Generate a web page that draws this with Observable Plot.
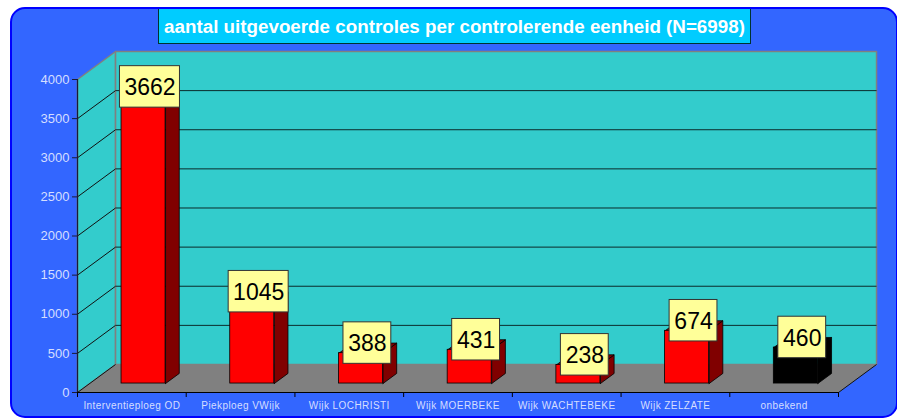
<!DOCTYPE html>
<html><head><meta charset="utf-8">
<script src="https://cdn.jsdelivr.net/npm/d3@7"></script>
<script src="https://cdn.jsdelivr.net/npm/@observablehq/plot@0.6"></script>
<style>
html,body{margin:0;padding:0;background:#fff;overflow:hidden;width:897px;height:418px}
#panel{position:absolute;left:10px;top:6.5px;width:888px;height:411px;box-sizing:border-box;background:#3366ff;border:2.5px solid #0000ff;border-radius:15px}
#chart{position:absolute;left:0;top:0;width:897px;height:418px}
#chart figure{margin:0;padding:0}
#chart h2{position:absolute;z-index:2;left:158px;top:9px;width:593px;height:35px;box-sizing:border-box;margin:0;padding:0;background:#00ccff;border-left:1px solid #003333;border-bottom:1px solid #003333;border-right:1px solid #003333;color:#fff;font:bold 18.8px/35px "Liberation Sans",Arial,sans-serif;text-align:center;white-space:nowrap}
#chart svg{position:absolute;left:0;top:0;background:transparent!important}
#chart svg g[aria-label="x-axis tick label"] text{letter-spacing:.42px}
</style></head><body>
<div id="panel"></div><div id="chart"></div>
<script>
const titleText = "aantal uitgevoerde controles per controlerende eenheid (N=6998)";
const categories = ["Interventieploeg OD","Piekploeg VWijk","Wijk LOCHRISTI","Wijk MOERBEKE","Wijk WACHTEBEKE","Wijk ZELZATE","onbekend"];
const values = [3662,1045,388,431,238,674,460];
const frontColors = ["#ff0000","#ff0000","#ff0000","#ff0000","#ff0000","#ff0000","#000000"];
const sideColors = ["#800000","#800000","#800000","#800000","#800000","#800000","#000000"];
const yTicks = [0,500,1000,1500,2000,2500,3000,3500,4000];

// pseudo-3D depth, in data units
const depthX = 0.35, depthY = 358, yMax = 4000, n = categories.length;
const barLeft = 0.293, barWidth = 0.405, barFront = 0.32, barBack = 0.68;
const boxH = 265;
const fx = (x, d) => x + d * depthX, fy = (y, d) => y + d * depthY;

const poly = (id, color, pts) => pts.map(([x, y]) => ({id, color, x, y}));
const walls = [
  ...poly("left", "#33cccc", [[0,0],[depthX,depthY],[depthX,yMax+depthY],[0,yMax],[0,0]]),
  ...poly("back", "#33cccc", [[depthX,depthY],[n+depthX,depthY],[n+depthX,yMax+depthY],[depthX,yMax+depthY],[depthX,depthY]])
];
const floor = poly("floor", "#808080", [[0,0],[n,0],[n+depthX,depthY],[depthX,depthY],[0,0]]);
const grid = yTicks.filter(t => t > 0 && t < yMax);

const bars = values.map((v, i) => ({v, i, x0: i + barLeft, x1: i + barLeft + barWidth, front: frontColors[i], side: sideColors[i]}));
const faces = bars.flatMap(b => {
  const a = fx(b.x0, barFront), c = fx(b.x1, barFront), e = fx(b.x1, barBack), g = fx(b.x0, barBack);
  const y0 = fy(0, barFront), y1 = fy(b.v, barFront), y2 = fy(0, barBack), y3 = fy(b.v, barBack);
  return [
    ...poly("side"+b.i, b.side, [[c,y0],[e,y2],[e,y3],[c,y1],[c,y0]]),
    ...poly("top"+b.i, b.side, [[a,y1],[c,y1],[e,y3],[g,y3],[a,y1]])
  ];
});
const labels = bars.map(b => {
  const cx = (fx(b.x0, barFront) + fx(b.x1, barBack)) / 2 - 0.004;
  const hw = b.v >= 1000 ? 0.276 : 0.22;
  return {label: String(b.v), cx, cy: fy(b.v, barBack), x1: cx - hw, x2: cx + hw, y1: fy(b.v, barBack) - boxH, y2: fy(b.v, barBack) + boxH};
});

const tickCol = "#d5deff", font = '"Liberation Sans",Arial,sans-serif';
const plot = Plot.plot({
  title: titleText,
  width: 897, height: 418,
  marginLeft: 77, marginRight: 59, marginTop: 79, marginBottom: 26,
  style: {background: "transparent", fontFamily: font, overflow: "visible"},
  x: {domain: [0, n], axis: null},
  y: {domain: [0, yMax], axis: null},
  color: {type: "identity"},
  marks: [
    Plot.line(walls, {x: "x", y: "y", z: "id", fill: "color", stroke: "#808080", strokeWidth: 1.5}),
    Plot.link(grid, {x1: 0, y1: d => d, x2: depthX, y2: d => d + depthY, stroke: "#111", strokeWidth: 1}),
    Plot.link(grid, {x1: depthX, y1: d => d + depthY, x2: n + depthX, y2: d => d + depthY, stroke: "#0b2b2b", strokeWidth: 1}),
    Plot.line(floor, {x: "x", y: "y", z: "id", fill: "color", stroke: "#808080", strokeWidth: 0}),
    Plot.link([0, n], {x1: d => d, y1: 0, x2: d => d + depthX, y2: depthY, stroke: "#111", strokeWidth: 1}),
    Plot.axisY({ticks: yTicks, tickSize: 5, tickPadding: 3, fontSize: 13, tickFormat: "d", stroke: "#1a1a33", fill: tickCol, label: null}),
    Plot.ruleX([0], {stroke: "#1a1a33", strokeWidth: 1.2}),
    Plot.ruleY([0], {stroke: "#000", strokeWidth: 1.2}),
    Plot.axisX({ticks: d3.range(0, n + 1), tickSize: 5, tickFormat: () => "", stroke: "#000", label: null}),
    Plot.axisX({ticks: categories.map((c, i) => i + 0.5), tickSize: 0, tickPadding: 9, fontSize: 10, fill: tickCol, tickFormat: d => categories[d - 0.5], label: null}),
    Plot.line(faces, {x: "x", y: "y", z: "id", fill: "color", stroke: "#000", strokeWidth: 0.8}),
    Plot.rect(bars, {x1: d => fx(d.x0, barFront), x2: d => fx(d.x1, barFront), y1: fy(0, barFront), y2: d => fy(d.v, barFront), fill: "front", stroke: "#000", strokeWidth: 0.8, inset: 0}),
    Plot.rect(labels, {x1: "x1", x2: "x2", y1: "y1", y2: "y2", fill: "#ffff99", stroke: "#333", strokeWidth: 1}),
    Plot.text(labels, {x: "cx", y: "cy", text: "label", fontSize: 23, dy: 1, fill: "#000"})
  ]
});
document.getElementById("chart").appendChild(plot);
</script></body></html>
